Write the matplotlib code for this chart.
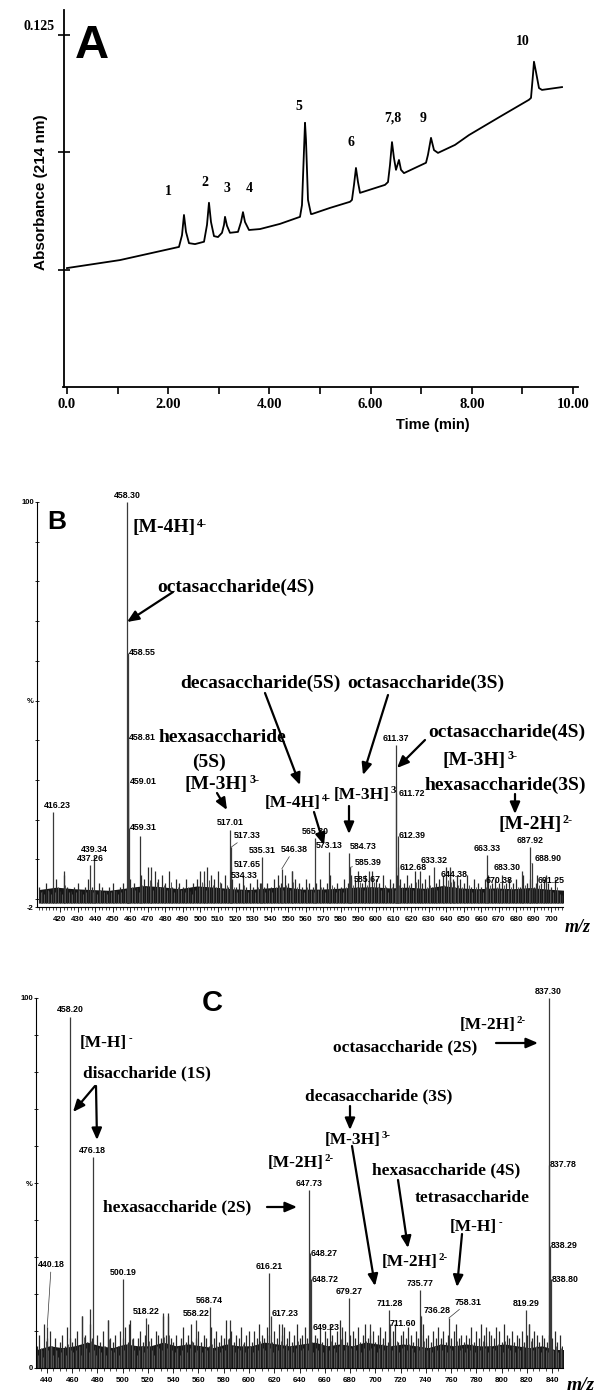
import numpy as np
import matplotlib
matplotlib.use("Agg")
import matplotlib.pyplot as plt
from matplotlib.ticker import MultipleLocator, FixedLocator

W, H = 600, 1391
SERIF = 'Liberation Serif'
SANS = 'Liberation Sans'

# ---------------- A: electropherogram (time in min, absorbance) ----------------
trace_t = [0.0, 1.047, 2.213, 2.273, 2.312, 2.352, 2.411, 2.530, 2.708, 2.767, 2.806, 2.846,
           2.905, 2.984, 3.063, 3.103, 3.123, 3.162, 3.221, 3.379, 3.439, 3.478, 3.518, 3.597,
           3.814, 4.209, 4.605, 4.644, 4.684, 4.704, 4.723, 4.763, 4.822, 4.842, 5.198, 5.593,
           5.632, 5.672, 5.711, 5.751, 5.791, 6.285, 6.344, 6.383, 6.423, 6.462, 6.502, 6.561,
           6.601, 6.660, 6.877, 7.095, 7.134, 7.194, 7.253, 7.332, 7.668, 7.945, 8.557, 9.130,
           9.170, 9.209, 9.229, 9.269, 9.328, 9.387, 9.783]
trace_abs = [0.0754, 0.0771, 0.0799, 0.0824, 0.0867, 0.0831, 0.0807, 0.0805, 0.0810, 0.0846,
             0.0893, 0.0852, 0.0822, 0.0820, 0.0829, 0.0846, 0.0863, 0.0844, 0.0829, 0.0831,
             0.0852, 0.0873, 0.0852, 0.0835, 0.0837, 0.0848, 0.0863, 0.0888, 0.1005, 0.1063,
             0.1027, 0.0899, 0.0869, 0.0869, 0.0882, 0.0895, 0.0899, 0.0931, 0.0967, 0.0937,
             0.0914, 0.0931, 0.0937, 0.0973, 0.1022, 0.0988, 0.0963, 0.0984, 0.0963, 0.0956,
             0.0967, 0.0978, 0.0995, 0.1031, 0.1005, 0.0999, 0.1016, 0.1037, 0.1076, 0.1112,
             0.1116, 0.1165, 0.1193, 0.1171, 0.1137, 0.1133, 0.1139]
peak_ids = ['1', '2', '3', '4', '5', '6', '7,8', '9', '10']
peak_label_t = [2.00, 2.73, 3.16, 3.60, 4.58, 5.61, 6.44, 7.04, 9.01]
peak_label_abs = [0.0916, 0.0937, 0.0924, 0.0924, 0.1097, 0.1022, 0.1073, 0.1073, 0.1235]
a_xticks = [0, 2, 4, 6, 8, 10]
a_xticklabels = ['0.0', '2.00', '4.00', '6.00', '8.00', '10.00']

# ---------------- B: mass spectrum ----------------
b_mz = [416.23, 437.26, 439.34, 458.30, 458.55, 458.81, 459.01, 459.31, 517.01, 517.33,
        517.65, 534.33, 535.31, 546.38, 565.30, 573.13, 584.73, 585.39, 585.67, 611.37,
        611.72, 612.39, 612.68, 633.32, 644.38, 663.33, 670.38, 683.30, 687.92, 688.90, 691.25]
b_int = [22, 8.6, 10.8, 100, 62, 40.6, 29.5, 18, 17.4, 13,
         8, 4, 10.6, 7.6, 15.4, 11.9, 11.6, 8, 5, 38.8,
         26.7, 16, 8, 8, 4.5, 11, 3, 7, 13, 9, 4]
b_extra_mz = [422.5, 465.5, 472, 502, 552, 596, 625, 642, 697]
b_extra_int = [7, 16, 8, 7, 7, 7, 7, 8, 6]
b_noise_start, b_noise_step = 408, 2
b_noise = [3, 2, 4, 2, 3, 5, 2, 6, 3, 2, 3, 4, 2, 3, 5, 3, 2, 4, 3, 2,
           3, 4, 2, 3, 4, 3, 5, 4, 3, 6, 5, 8, 4, 7, 5, 6, 4, 7, 3, 5,
           4, 3, 5, 2, 4, 5, 7, 4, 8, 6, 5, 7, 4, 6, 3, 5, 3, 4, 6, 3,
           4, 3, 5, 4, 3, 4, 3, 5, 6, 4, 6, 4, 7, 5, 4, 3, 5, 4, 3, 4,
           5, 3, 4, 6, 3, 4, 3, 5, 4, 6, 5, 7, 4, 6, 5, 7, 5, 4, 6, 3,
           5, 4, 6, 5, 4, 6, 4, 7, 5, 4, 5, 6, 3, 4, 5, 6, 8, 7, 5, 6,
           5, 4, 6, 3, 5, 4, 3, 5, 6, 4, 5, 4, 6, 4, 5, 4, 5, 3, 6, 4,
           5, 3, 6, 4, 5, 4, 3, 5, 2, 1]
b_floor_step = 10
b_floor = [2.4, 3.0, 2.6, 2.4, 2.2, 2.8, 3.4, 3.1, 2.6, 3.3, 3.0, 2.6, 2.4, 2.8, 3.1, 2.5,
           2.5, 2.7, 3.0, 3.1, 2.8, 3.0, 2.7, 3.4, 2.8, 2.6, 2.8, 2.6, 2.9, 2.5, 2.2]
b_xticks = list(range(420, 701, 10))

# ---------------- C: mass spectrum ----------------
c_mz = [440.18, 458.20, 476.18, 500.19, 518.22, 558.22, 568.74, 616.21, 617.23, 647.73,
        648.27, 648.72, 649.23, 679.27, 711.28, 711.60, 735.77, 736.28, 758.31, 819.29,
        837.30, 837.78, 838.29, 838.80]
c_int = [11, 95, 57, 24, 13.5, 13, 16.5, 25.7, 14, 48,
         31, 24, 11, 19, 15.7, 12, 21, 14, 13.5, 15.7,
         100, 55, 33, 24]
c_extra_mz = [468, 474, 488, 505, 532, 536, 585, 626, 674, 696, 788, 822]
c_extra_int = [14, 16, 13, 12, 15, 14, 13, 12, 11, 12, 11, 12]
c_noise_start, c_noise_step = 432, 2
c_noise = [6, 9, 5, 12, 8, 10, 6, 8, 5, 7, 9, 6, 11, 8, 7, 8, 10, 6, 14, 9,
           7, 12, 8, 6, 9, 7, 10, 6, 13, 8, 7, 9, 6, 10, 8, 11, 7, 13, 8, 6,
           8, 10, 7, 9, 12, 8, 6, 10, 9, 8, 14, 9, 15, 8, 7, 9, 6, 8, 11, 7,
           9, 12, 7, 8, 10, 7, 9, 8, 6, 11, 8, 10, 7, 9, 8, 13, 8, 10, 7, 9,
           8, 11, 7, 9, 10, 7, 10, 8, 12, 9, 8, 11, 9, 7, 10, 8, 12, 9, 11, 8,
           10, 7, 9, 12, 8, 9, 11, 8, 10, 7, 9, 8, 11, 7, 10, 8, 12, 9, 7, 10,
           13, 8, 10, 7, 9, 10, 8, 11, 7, 9, 12, 8, 9, 10, 7, 9, 11, 8, 10, 7,
           8, 10, 12, 7, 9, 10, 8, 11, 9, 7, 10, 8, 9, 12, 8, 9, 7, 10, 8, 11,
           8, 10, 7, 9, 8, 10, 12, 8, 9, 7, 9, 8, 11, 7, 10, 8, 12, 9, 7, 10,
           9, 8, 11, 10, 7, 12, 9, 8, 10, 7, 9, 8, 10, 7, 9, 12, 8, 10, 9, 7,
           9, 8, 7, 9, 8, 10, 7, 9, 6]
c_floor_step = 10
c_floor = [5, 6, 5.5, 6, 7, 6, 5.5, 6.5, 6, 6, 7, 6, 6.5, 6, 5.5, 6.5, 6, 6, 7, 6.5, 6, 6.5,
           7, 6, 6.5, 6, 7, 6.5, 6, 6.5, 6, 5.5, 6.5, 6, 6.5, 6, 6, 6.5, 6, 5.5, 6, 5, 5]
c_xticks = list(range(440, 841, 20))

# label placement: (ha, dx px, dy px, leader)
b_lab = [('center', 4, 2, 0), ('center', 0, 2, 0), ('center', 0, 2, 0), ('center', 0, 2, 0),
         ('left', 1, 0, 0), ('left', 1, 0, 0), ('left', 1, 0, 0), ('left', 1, 0, 0),
         ('center', 0, 3, 0), ('left', 3, 12, 1), ('left', 2, 3, 0), ('right', -3, 8, 0),
         ('center', 0, 2, 0), ('center', 12, 15, 1), ('center', 0, 2, 0), ('center', 0, 2, 0),
         ('center', 14, 2, 0), ('left', 5, 5, 1), ('left', 3, 0, 0), ('center', 0, 2, 0),
         ('left', 2, 0, 0), ('left', 1, 0, 0), ('left', 1, 0, 0), ('center', 0, 2, 0),
         ('center', 0, 2, 0), ('center', 0, 2, 0), ('center', 0, 2, 0), ('right', -1, 4, 0),
         ('center', 0, 2, 0), ('left', 3, 5, 1), ('left', 2, 3, 0)]
c_lab = [('center', 4, 58, 1), ('center', 0, 2, 0), ('center', 0, 2, 0), ('center', 0, 2, 0),
         ('center', 0, 2, 0), ('center', 0, 2, 0), ('center', 0, 2, 0), ('center', 0, 2, 0),
         ('left', 1, 3, 0), ('center', 0, 2, 0), ('left', 1, 0, 0), ('left', 1, 0, 0),
         ('left', 1, 0, 0), ('center', 0, 2, 0), ('center', 0, 2, 0), ('left', 0, 0, 0),
         ('center', 0, 2, 0), ('left', 3, 6, 1), ('left', 6, 16, 1), ('center', 0, 2, 0),
         ('center', 0, 2, 0), ('left', 1, 0, 0), ('left', 1, 0, 0), ('left', 1, 0, 0)]


def rect(x0, y0, x1, y1):
    return [x0 / W, 1 - y1 / H, (x1 - x0) / W, (y1 - y0) / H]


fig = plt.figure(figsize=(W / 100, H / 100), dpi=100)
renderer = fig.canvas.get_renderer()

# ---------- panel A ----------
axA = fig.add_axes(rect(63.5, 10, 578, 387))
axA.patch.set_alpha(0)
axA.plot(trace_t, trace_abs, color='k', lw=1.3)
axA.set_xlim(-0.069, 10.099)
axA.set_ylim(0.0501, 0.1303)
for s in ['top', 'right']:
    axA.spines[s].set_visible(False)
for s in ['left', 'bottom']:
    axA.spines[s].set_linewidth(1.3)
axA.set_xticks(a_xticks)
axA.set_xticklabels(a_xticklabels, fontfamily=SERIF, fontweight='bold', fontsize=10.5)
axA.xaxis.set_minor_locator(MultipleLocator(1))
axA.tick_params(axis='x', which='both', direction='out', length=5, width=1.2, pad=3)
axA.set_yticks([0.075, 0.100, 0.125])
axA.set_yticklabels([])
axA.tick_params(axis='y', direction='inout', length=8, width=1.2)
for lab, t, a in zip(peak_ids, peak_label_t, peak_label_abs):
    axA.text(t, a, lab, ha='center', va='center', fontfamily=SERIF, fontweight='bold', fontsize=10)
fig.text(39 / W, 1 - 27 / H, '0.125', ha='center', va='center', fontfamily=SERIF,
         fontweight='bold', fontsize=10)
fig.text(92 / W, 1 - 46 / H, 'A', ha='center', va='center', fontfamily=SANS,
         fontweight='bold', fontsize=34)
fig.text(41 / W, 1 - 192 / H, 'Absorbance (214 nm)', rotation=90, ha='center', va='center',
         fontfamily=SANS, fontweight='bold', fontsize=11)
fig.text(433 / W, 1 - 425 / H, 'Time (min)', ha='center', va='center', fontfamily=SANS,
         fontweight='bold', fontsize=10.5)


def spectrum(ax, mz, inten, extra_mz, extra_int, noise_start, noise_step, noise,
             floor_step, floor, floor_base, labels, ticks, minor, xlim, ylim):
    ax.patch.set_alpha(0)
    nx = noise_start + noise_step * np.arange(len(noise))
    fx = noise_start + floor_step * np.arange(len(floor))
    ax.fill_between(fx, floor_base, floor, color='#151515', lw=0)
    ax.vlines(nx, floor_base, noise, color='#2a2a2a', lw=0.9)
    ax.vlines(nx + noise_step / 2, floor_base, np.array(noise) * 0.6, color='#555555', lw=0.7)
    ax.vlines(extra_mz, floor_base, extra_int, color='#333333', lw=0.9)
    ax.vlines(mz, floor_base, inten, color='#3a3a3a', lw=0.9)
    for m, h, (ha, dx, dy, lead) in zip(mz, inten, labels):
        va = 'bottom' if ha == 'center' else 'center'
        props = dict(arrowstyle='-', lw=0.5, color='#333333', shrinkA=0, shrinkB=0) if lead else None
        ax.annotate(f'{m:.2f}', xy=(m, h), xytext=(dx, dy), textcoords='offset pixels',
                    ha=ha, va=va, fontfamily=SANS, fontweight='bold', fontsize=6.3,
                    arrowprops=props, annotation_clip=False)
    ax.set_xlim(*xlim)
    ax.set_ylim(*ylim)
    for s in ['top', 'right']:
        ax.spines[s].set_visible(False)
    for s in ['left', 'bottom']:
        ax.spines[s].set_linewidth(0.8)
    ax.xaxis.set_major_locator(FixedLocator(ticks))
    ax.xaxis.set_minor_locator(MultipleLocator(minor))
    ax.set_xticklabels([str(v) for v in ticks], fontfamily=SANS, fontweight='bold', fontsize=5.8)
    ax.tick_params(axis='x', which='major', direction='out', length=3.5, width=0.6, pad=3)
    ax.tick_params(axis='x', which='minor', direction='out', length=2.5, width=0.5)
    ax.yaxis.set_minor_locator(MultipleLocator(10))
    ax.tick_params(axis='y', which='both', direction='inout', length=2.5, width=0.6, pad=1)


# ---------- panel B ----------
axB = fig.add_axes(rect(37, 502, 563, 907))
spectrum(axB, b_mz, b_int, b_extra_mz, b_extra_int, b_noise_start, b_noise_step, b_noise,
         b_floor_step, b_floor, -1, b_lab, b_xticks, 2, (406.9, 706.6), (-2, 100))
axB.yaxis.set_major_locator(FixedLocator([-2, 50, 100]))
axB.set_yticklabels(['-2', '%', '100'], fontfamily=SANS, fontweight='bold', fontsize=5.5)

# ---------- panel C ----------
axC = fig.add_axes(rect(36, 998, 563, 1368))
spectrum(axC, c_mz, c_int, c_extra_mz, c_extra_int, c_noise_start, c_noise_step, c_noise,
         c_floor_step, c_floor, 0, c_lab, c_xticks, 5, (431.3, 848.7), (0, 100))
axC.yaxis.set_major_locator(FixedLocator([0, 50, 100]))
axC.set_yticklabels(['0', '%', '100'], fontfamily=SANS, fontweight='bold', fontsize=5.5)


# ---------- annotations (figure pixels, y measured from top) ----------
def note(x, y, s, size, sup=None, ha='left', style='normal'):
    t = fig.text(x / W, 1 - y / H, s, ha=ha, va='center', fontfamily=SERIF, fontweight='bold',
                 fontsize=size, fontstyle=style)
    if sup:
        bb = t.get_window_extent(renderer)
        em = size * 100 / 72
        fig.text((bb.x1 + 1) / W, (bb.y1 - 0.22 * em) / H, sup, ha='left', va='center',
                 fontfamily=SERIF, fontweight='bold', fontsize=size * 0.62)


def arrow(x0, y0, x1, y1, lw=1.6):
    axA.annotate('', xy=(x1, H - y1), xycoords='figure pixels', xytext=(x0, H - y0),
                 textcoords='figure pixels', annotation_clip=False,
                 arrowprops=dict(arrowstyle='-|>,head_length=0.7,head_width=0.3', lw=lw,
                                 color='k', shrinkA=0, shrinkB=0))


fig.text(57 / W, 1 - 522 / H, 'B', ha='center', va='center', fontfamily=SANS,
         fontweight='bold', fontsize=19)
fs_b = 14
note(133, 528, '[M-4H]', fs_b, '4-')
note(157, 587, 'octasaccharide(4S)', fs_b)
note(180, 683, 'decasaccharide(5S)', fs_b)
note(347, 683, 'octasaccharide(3S)', fs_b)
note(159, 738, 'hexasaccharide', fs_b)
note(192, 762, '(5S)', fs_b)
note(185, 784, '[M-3H]', fs_b, '3-')
note(265, 803, '[M-4H]', 12.5, '4-')
note(334, 795, '[M-3H]', 12.5, '3')
note(428, 732, 'octasaccharide(4S)', fs_b)
note(443, 760, '[M-3H]', fs_b, '3-')
note(425, 785, 'hexasaccharide(3S)', fs_b)
note(498, 824, '[M-2H]', fs_b, '2-')
note(578, 928, 'm/z', 13, ha='center', style='italic')
arrow(173, 592, 127, 622)
arrow(265, 693, 300, 785)
arrow(314, 812, 324, 845)
arrow(388, 695, 363, 775)
arrow(349, 806, 349, 834)
arrow(425, 740, 397, 768)
arrow(515, 794, 515, 814)
arrow(217, 793, 227, 810)

fig.text(212 / W, 1 - 1003 / H, 'C', ha='center', va='center', fontfamily=SANS,
         fontweight='bold', fontsize=21)
fs_c = 12.5
note(80, 1043, '[M-H]', fs_c, '-')
note(83, 1073, 'disaccharide (1S)', fs_c)
note(460, 1025, '[M-2H]', fs_c, '2-')
note(333, 1047, 'octasaccharide (2S)', fs_c)
note(452, 1096, 'decasaccharide (3S)', fs_c, ha='right')
note(325, 1140, '[M-3H]', fs_c, '3-')
note(268, 1163, '[M-2H]', fs_c, '2-')
note(103, 1207, 'hexasaccharide (2S)', fs_c)
note(372, 1170, 'hexasaccharide (4S)', fs_c)
note(415, 1198, 'tetrasaccharide', fs_c)
note(450, 1227, '[M-H]', fs_c, '-')
note(382, 1262, '[M-2H]', fs_c, '2-')
note(581, 1385, 'm/z', 14, ha='center', style='italic')
arrow(95, 1086, 73, 1112)
arrow(96, 1086, 97, 1140)
arrow(496, 1043, 538, 1043)
arrow(350, 1106, 350, 1130)
arrow(352, 1146, 375, 1286)
arrow(267, 1207, 297, 1207)
arrow(398, 1180, 408, 1248)
arrow(462, 1234, 457, 1287)

fig.savefig('out.png', dpi=100)
